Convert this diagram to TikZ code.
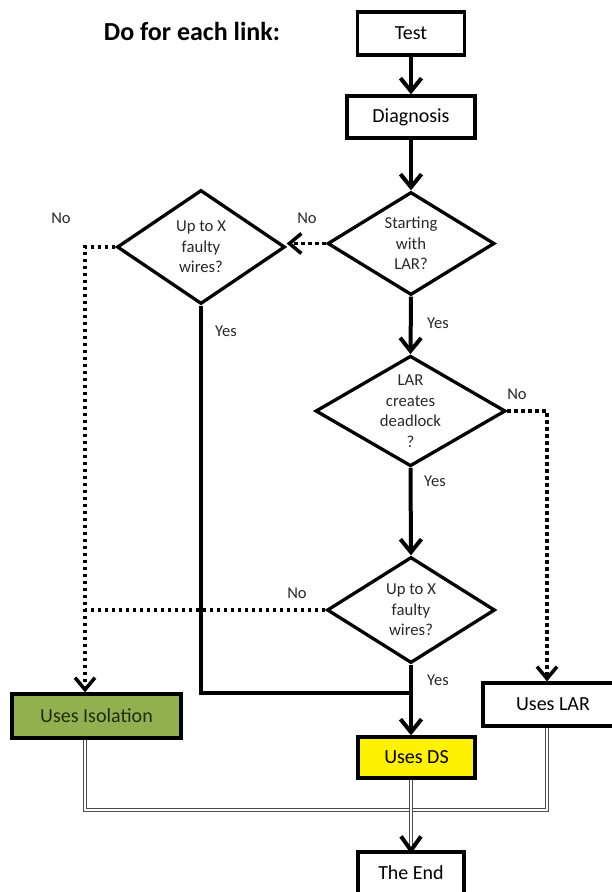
\documentclass[tikz,border=0pt]{standalone}
\usepackage{fontspec}
\setmainfont{Carlito}
\usetikzlibrary{shapes.geometric,arrows.meta}
\definecolor{isogreen}{RGB}{146,176,80}
\definecolor{isotext}{RGB}{30,45,15}
\definecolor{labgray}{RGB}{40,40,40}
\begin{document}
\begin{tikzpicture}[x=1pt,y=-1pt,
  box/.style={draw=black, line width=3.3pt, rectangle, inner sep=0pt, font=\fontsize{20}{24}\selectfont, text=black},
  dia/.style={draw=black, line width=3.3pt, diamond, shape aspect=1.6, inner sep=0pt, align=center, font=\fontsize{16.7}{20.5}\selectfont, text=labgray},
  lab/.style={font=\fontsize{16.5}{20}\selectfont, text=labgray, inner sep=0pt},
  arr/.style={line width=4pt, -{Straight Barb[length=13pt,width=21pt]}},
  solidline/.style={line width=4pt, line join=miter},
  dotline/.style={line width=3.5pt, dash pattern=on 3.5pt off 3.5pt},
  dotarr/.style={dotline, -{Straight Barb[length=12pt,width=20pt]}},
  dbl/.style={draw=black!70, line width=1.2pt, double=white, double distance=2.2pt}
]
\useasboundingbox (0,0) rectangle (612,892);
\clip (0,0) rectangle (612,892);

% title
\node[font=\fontsize{26}{30}\selectfont\bfseries, inner sep=0pt] (title) at (192,31) {Do for each link:};

% boxes
\node[box, minimum width=107pt, minimum height=43pt] (test) at (411,33.5) {Test};
\node[box, minimum width=128pt, minimum height=42pt] (diag) at (411,117) {Diagnosis};
\node[box, fill=isogreen, text=isotext, minimum width=169pt, minimum height=44pt] (iso) at (96.5,716) {Uses Isolation};
\node[box, minimum width=140pt, minimum height=43pt] (lar) at (553,704.5) {Uses LAR};
\node[box, fill=yellow, minimum width=117pt, minimum height=41pt] (ds) at (416.5,757.5) {Uses DS};
\node[box, minimum width=106pt, minimum height=42pt] (end) at (411,873) {The End};

% diamonds
\node[dia, minimum width=167pt, minimum height=103pt] (d1) at (411,243.5) {Starting\\with\\LAR?};
\node[dia, minimum width=168pt, minimum height=114pt] (d2) at (201,247) {Up to X\\faulty\\wires?};
\node[dia, minimum width=190pt, minimum height=105pt] (d3) at (410.5,411) {LAR\\creates\\deadlock\\?};
\node[dia, minimum width=168pt, minimum height=106pt] (d4) at (411,610) {Up to X\\faulty\\wires?};

% helper coordinates
\coordinate (lcol) at (85,0);
\coordinate (rcol) at (547,0);
\coordinate (join) at (411,693);
\coordinate (bot) at (0,810);

% labels
\node[lab] (no0) at (61,218) {No};
\node[lab] (no1) at (307,218) {No};
\node[lab] (yes2) at (226,331) {Yes};
\node[lab] (yes1) at (438,323) {Yes};
\node[lab] (no3) at (517,394) {No};
\node[lab] (yes3) at (435,481) {Yes};
\node[lab] (no4) at (297,593) {No};
\node[lab] (yes4) at (438,680) {Yes};

% solid arrows
\draw[arr] (test.south) -- (diag.north);
\draw[arr] (diag.south) -- (d1.north);
\draw[arr] (d1.south) -- (d3.north);
\draw[arr] (d3.south) -- (d4.north);
\draw[arr] (d4.south) -- (d4.south |- ds.north);
\draw[solidline] (d2.south) |- (join);

% dotted connectors
\draw[dotarr] (d1.west) -- (d1.west -| d2.east);
\draw[dotarr] (d2.west) -| (lcol |- iso.north);
\draw[dotline] (d4.west) -- (d4.west -| lcol);
\draw[dotarr] (d3.east) -| (rcol |- lar.north);

% double lines
\draw[dbl] (iso.south -| lcol) -- (lcol |- bot) -- (rcol |- bot) -- (lar.south -| rcol);
\draw[dbl] (end.north |- ds.south) -- (end.north);
\draw[line width=4pt, line join=miter] ([xshift=-10pt,yshift=14pt]end.north) -- (end.north) -- ([xshift=10pt,yshift=14pt]end.north);
\end{tikzpicture}
\end{document}
